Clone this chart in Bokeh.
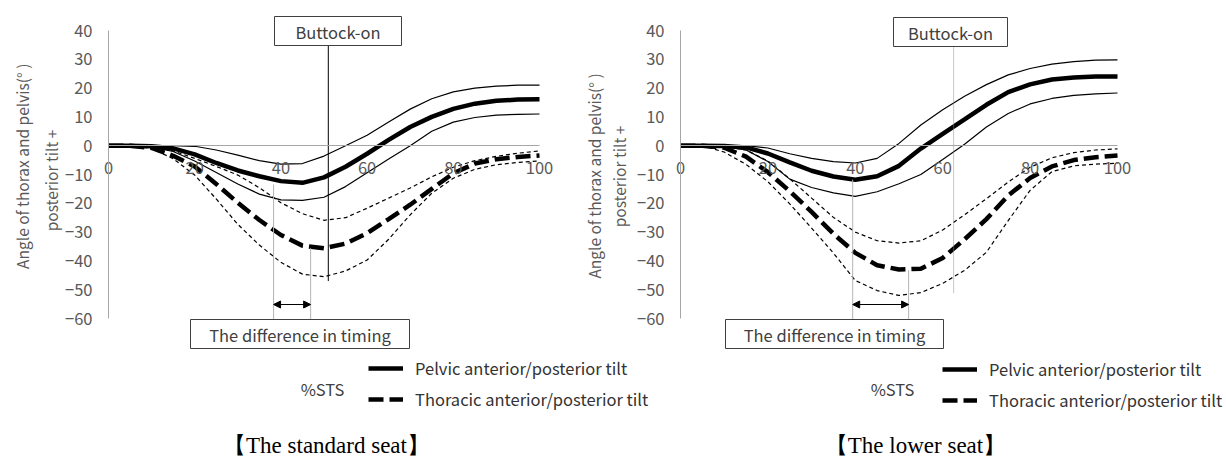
import math
from bokeh.plotting import figure
from bokeh.models import Range1d, LinearAxis, FixedTicker, Legend, LegendItem, Arrow, NormalHead
from bokeh.core.properties import value
from bokeh.embed import file_html
from bokeh.resources import INLINE

# ---------------- data ----------------
pct_sts = [0, 5, 10, 15, 20, 25, 30, 35, 40, 45, 50, 55, 60, 65, 70, 75, 80, 85, 90, 95, 100]
x_ticks = [0, 20, 40, 60, 80, 100]
y_ticks = [-60, -50, -40, -30, -20, -10, 0, 10, 20, 30, 40]

# standard seat
std_pelvic_mean = [0, 0, -0.2, -0.9, -3.0, -6.0, -8.6, -10.6, -12.3, -12.9, -11.0, -7.3, -2.8, 2.0, 6.5, 10.0, 12.8, 14.6, 15.6, 16.0, 16.1]
std_pelvic_upper = [0, 0, 0, 0, -0.2, -1.5, -3.3, -5.2, -6.4, -6.2, -3.6, 0.0, 3.6, 8.2, 12.7, 16.3, 18.7, 20.0, 20.7, 21.0, 21.0]
std_pelvic_lower = [0, 0, -0.5, -2.0, -5.3, -9.3, -13.3, -16.8, -18.8, -19.0, -17.9, -14.2, -9.4, -4.6, 0.0, 5.0, 8.2, 9.8, 10.6, 10.9, 11.0]
std_thoracic_mean = [0, 0, -0.8, -3.5, -7.2, -13.3, -19.8, -25.8, -31.0, -34.7, -35.6, -34.0, -30.4, -25.5, -20.5, -15.0, -9.6, -6.2, -4.7, -3.9, -3.4]
std_thoracic_upper = [0, 0, -0.2, -1.8, -4.4, -7.2, -10.2, -14.6, -19.8, -23.6, -25.9, -25.0, -21.7, -18.2, -14.7, -10.8, -7.5, -5.2, -3.7, -2.6, -1.8]
std_thoracic_lower = [0, 0, -1.0, -4.5, -10.2, -18.5, -27.3, -34.5, -40.5, -44.6, -45.5, -43.5, -39.7, -32.5, -24.0, -16.5, -11.3, -8.2, -6.6, -5.8, -5.3]

# lower seat
low_pelvic_mean = [0, 0, -0.1, -0.6, -2.7, -5.8, -8.7, -10.7, -11.8, -10.6, -7.0, -1.0, 4.1, 9.1, 14.2, 18.6, 21.3, 23.0, 23.7, 24.0, 24.0]
low_pelvic_upper = [0, 0, 0, 0, -0.8, -2.8, -4.4, -5.5, -6.0, -4.4, 0.8, 7.2, 12.5, 17.2, 21.2, 24.6, 26.8, 28.3, 29.2, 29.7, 29.8]
low_pelvic_lower = [0, 0, -0.3, -1.5, -5.5, -11.6, -14.5, -16.4, -17.6, -16.0, -13.2, -10.0, -4.8, 0.5, 6.5, 11.2, 14.5, 16.4, 17.5, 18.0, 18.3]
low_thoracic_mean = [0, 0, -0.7, -3.8, -9.2, -15.8, -23.0, -30.6, -37.2, -41.5, -43.0, -42.7, -39.0, -32.5, -25.5, -17.3, -11.2, -7.2, -5.0, -4.0, -3.4]
low_thoracic_upper = [0, 0, -0.2, -1.5, -5.3, -11.5, -18.2, -24.9, -30.0, -33.0, -33.8, -33.0, -29.3, -24.0, -18.4, -12.6, -7.5, -4.2, -2.4, -1.5, -1.1]
low_thoracic_lower = [0, 0, -2.2, -6.5, -12.5, -20.2, -28.6, -37.3, -46.8, -50.3, -52.0, -51.0, -47.8, -43.3, -37.0, -26.0, -15.5, -9.0, -7.0, -6.4, -6.1]

# event markers (%STS)
buttock_on = {"std": 51.0, "low": 62.5}
timing_std = [38.3, 46.9]
timing_low = [39.4, 52.2]

series_labels = ["Pelvic anterior/posterior tilt", "Thoracic anterior/posterior tilt"]
panel_titles = ["【The standard seat】", "【The lower seat】"]

# ---------------- geometry (page pixels) ----------------
W, H = 1226, 461
PL, PT = 0, 0
L_X0, L_PPU = 108, 4.31
R_X0, R_PPU = 680, 4.37
Y_TOP_PX, Y_BOT_PX = 30, 318
Y_MAX, Y_MIN = 40, -60
PPU_Y = (Y_BOT_PX - Y_TOP_PX) / (Y_MAX - Y_MIN)

def ydata(page_y):
    return Y_MAX - (page_y - Y_TOP_PX) / PPU_Y

FONT = "Noto Sans CJK JP"
AXIS_GRAY = "#a6a6a6"
TICK_GRAY = "#595959"
TEXT_DARK = "#404040"

p = figure(width=W, height=H,
           x_range=Range1d((PL - L_X0) / L_PPU, (PL + W - L_X0) / L_PPU),
           y_range=Range1d(Y_MIN - (PT + H - Y_BOT_PX) / PPU_Y, Y_MAX + (Y_TOP_PX - PT) / PPU_Y),
           x_axis_type=None, y_axis_type=None,
           toolbar_location=None, output_backend="svg", min_border=0,
           outline_line_color=None, background_fill_color="white", border_fill_color="white")
p.extra_x_ranges = {"right": Range1d((PL - R_X0) / R_PPU, (PL + W - R_X0) / R_PPU),
                    "px": Range1d(PL, PL + W)}
p.extra_y_ranges = {"py": Range1d(PT + H, PT)}

def add_axis(kind, rng_name, ticks, bounds, standoff):
    ax = LinearAxis(ticker=FixedTicker(ticks=ticks), bounds=bounds, fixed_location=0,
                    axis_line_color=AXIS_GRAY, axis_line_width=1,
                    major_tick_line_color=None, minor_tick_line_color=None,
                    major_tick_in=0, major_tick_out=0,
                    major_label_text_color=TICK_GRAY, major_label_text_font=FONT,
                    major_label_text_font_size="16.5px", major_label_standoff=standoff,
                    x_range_name=rng_name)
    p.add_layout(ax, "left" if kind == "y" else "below")

for rn in ["default", "right"]:
    add_axis("y", rn, y_ticks, (Y_MIN, Y_MAX), 16)
    add_axis("x", rn, x_ticks, (0, 100), 16)

def draw_panel(rn, pm, pu, plo, tm, tu, tlo):
    for s in (tu, tlo):
        p.line(pct_sts, s, x_range_name=rn, line_color="black", line_width=1.2, line_dash="4 3")
    for s in (pu, plo):
        p.line(pct_sts, s, x_range_name=rn, line_color="black", line_width=1.2)
    r_t = p.line(pct_sts, tm, x_range_name=rn, line_color="black", line_width=4.5, line_dash="15 6")
    r_p = p.line(pct_sts, pm, x_range_name=rn, line_color="black", line_width=4.5)
    return r_p, r_t

rp_s, rt_s = draw_panel("default", std_pelvic_mean, std_pelvic_upper, std_pelvic_lower,
                        std_thoracic_mean, std_thoracic_upper, std_thoracic_lower)
rp_l, rt_l = draw_panel("right", low_pelvic_mean, low_pelvic_upper, low_pelvic_lower,
                        low_thoracic_mean, low_thoracic_upper, low_thoracic_lower)

# Buttock-on markers
p.segment(x0=[buttock_on["std"]], y0=[-47], x1=[buttock_on["std"]], y1=[ydata(45)],
          line_color="black", line_width=1)
p.segment(x0=[buttock_on["low"]], y0=[-51], x1=[buttock_on["low"]], y1=[ydata(46)],
          x_range_name="right", line_color="#8c8c8c", line_width=1, line_dash="1 1")

# timing lines
y_box_top = ydata(319)
p.segment(x0=timing_std, y0=[-13.5, -35.6], x1=timing_std, y1=[y_box_top] * 2,
          line_color="#b4b4b4", line_width=1)
p.segment(x0=timing_low, y0=[-11.8, -43.2], x1=timing_low, y1=[y_box_top] * 2,
          x_range_name="right", line_color="#b4b4b4", line_width=1)

y_arrow = ydata(304)
for rn, tt in (("default", timing_std), ("right", timing_low)):
    p.add_layout(Arrow(x_start=tt[0], x_end=tt[1], y_start=y_arrow, y_end=y_arrow,
                       x_range_name=rn, line_color="black", line_width=1,
                       start=NormalHead(size=7, fill_color="black", line_color="black"),
                       end=NormalHead(size=7, fill_color="black", line_color="black")))

# boxes with text (page px)
boxes = [
    (274, 401, 16, 45, "Buttock-on"),
    (893, 1007, 17, 46, "Buttock-on"),
    (190, 409, 319, 348, "The difference in timing"),
    (725, 943, 319, 348, "The difference in timing"),
]
p.quad(left=[b[0] for b in boxes], right=[b[1] for b in boxes],
       top=[b[2] for b in boxes], bottom=[b[3] for b in boxes],
       x_range_name="px", y_range_name="py",
       fill_color="white", line_color=TEXT_DARK, line_width=1)
p.text(x=[(b[0] + b[1]) / 2 for b in boxes], y=[(b[2] + b[3]) / 2 + 1 for b in boxes],
       text=[b[4] for b in boxes], x_range_name="px", y_range_name="py",
       text_font=value(FONT), text_font_size="16.5px", text_color=TEXT_DARK,
       text_align="center", text_baseline="middle")

# y-axis titles
p.text(x=[21, 50, 593, 618], y=[164, 180, 172, 176],
       text=["Angle of thorax and pelvis(°  )", "posterior tilt +",
             "Angle  of thorax and pelvis(°  )", "posterior tilt +"],
       angle=math.pi / 2, x_range_name="px", y_range_name="py",
       text_font=value(FONT), text_font_size="15.5px", text_color=TICK_GRAY,
       text_align="center", text_baseline="middle")

# %STS
p.text(x=[322, 892], y=[388, 388], text=["%STS", "%STS"],
       x_range_name="px", y_range_name="py",
       text_font=value(FONT), text_font_size="16.5px", text_color=TEXT_DARK,
       text_align="center", text_baseline="middle")

# panel titles
p.text(x=[326, 915], y=[445, 445], text=panel_titles,
       x_range_name="px", y_range_name="py",
       text_font=value("Liberation Serif"), text_font_size="23px", text_color="black",
       text_align="center", text_baseline="middle")

# legends
for (rp, rt, lx, top) in ((rp_s, rt_s, 368, 364), (rp_l, rt_l, 942, 365)):
    leg = Legend(items=[LegendItem(label=series_labels[0], renderers=[rp]),
                        LegendItem(label=series_labels[1], renderers=[rt])],
                 location=(lx - PL, H - (top - PT) - 47), orientation="vertical",
                 glyph_width=35, glyph_height=20, label_height=20, label_standoff=12,
                 spacing=7, padding=0, margin=0, border_line_color=None,
                 background_fill_alpha=0, label_text_font=FONT,
                 label_text_font_size="16.5px", label_text_color="#333333")
    p.add_layout(leg)

open("out.html", "w").write(file_html(p, INLINE))
